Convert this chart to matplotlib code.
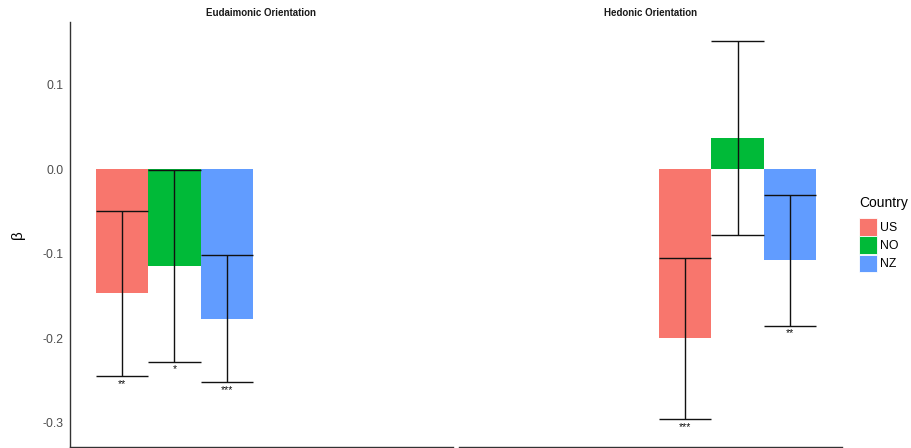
import numpy as np
import matplotlib
matplotlib.use("Agg")
import matplotlib.pyplot as plt
from matplotlib.patches import Patch

plt.rcParams["font.family"] = ["Liberation Sans", "DejaVu Sans"]

# Standardised coefficients per orientation and country, with 95% CI
orientations = ["Eudaimonic Orientation", "Hedonic Orientation"]
countries = ["US", "NO", "NZ"]
colors = ["#F8766D", "#00BA38", "#619CFF"]

eud_beta = [-0.147, -0.115, -0.177]
eud_lo = [-0.245, -0.228, -0.252]
eud_hi = [-0.049, -0.001, -0.102]
eud_sig = ["**", "*", "***"]

hed_beta = [-0.200, 0.037, -0.108]
hed_lo = [-0.296, -0.078, -0.185]
hed_hi = [-0.105, 0.152, -0.031]
hed_sig = ["***", "", "**"]

yticks = [0.1, 0.0, -0.1, -0.2, -0.3]

panels = [
    (eud_beta, eud_lo, eud_hi, eud_sig),
    (hed_beta, hed_lo, hed_hi, hed_sig),
]

W, H = 912, 448
fig = plt.figure(figsize=(W / 100, H / 100), dpi=100)
axes = [
    fig.add_axes([70 / W, 1.5 / H, 383 / W, 424.5 / H]),
    fig.add_axes([459 / W, 1.5 / H, 383 / W, 424.5 / H]),
]

bar_w = 0.3
offsets = np.array([-1, 0, 1]) * bar_w
axis_col = "#333333"

for i, (ax, (beta, lo, hi, sig)) in enumerate(zip(axes, panels)):
    x = (i + 1) + offsets
    beta = np.array(beta)
    lo = np.array(lo)
    hi = np.array(hi)
    ax.bar(x, beta, width=bar_w, color=colors, edgecolor="none", zorder=1)
    ax.vlines(x, lo, hi, color="#111111", lw=1.0, zorder=2)
    ax.hlines(lo, x - bar_w / 2, x + bar_w / 2, color="#111111", lw=1.0, zorder=2)
    ax.hlines(hi, x - bar_w / 2, x + bar_w / 2, color="#111111", lw=1.0, zorder=2)
    for xi, yi, s in zip(x, lo, sig):
        if s:
            ax.annotate(s, (xi, yi), xytext=(0, -1.8), textcoords="offset points",
                        ha="center", va="top", fontsize=7.5, color="#111111")

    ax.set_xlim(0.4, 2.6)
    ax.set_ylim(-0.328, 0.174)
    ax.set_xticks([])
    ax.set_yticks(yticks)
    ax.set_facecolor("white")
    for side in ("top", "right"):
        ax.spines[side].set_visible(False)
    ax.spines["bottom"].set_color(axis_col)
    ax.spines["bottom"].set_linewidth(1.0)
    ax.set_title(orientations[i], fontsize=7, fontweight="bold", pad=4.5, color="#1a1a1a")
    if i == 0:
        ax.spines["left"].set_color(axis_col)
        ax.spines["left"].set_linewidth(1.0)
        ax.set_yticklabels([f"{v:.1f}" for v in yticks])
        ax.tick_params(axis="y", length=0, pad=4.5, labelsize=8.8, labelcolor="#4D4D4D")
        ax.set_ylabel("β", fontsize=11, labelpad=13)
    else:
        ax.spines["left"].set_visible(False)
        ax.tick_params(axis="y", length=0, labelleft=False)

# legend: title placed separately to get the wider gap above the keys
fig.text(859 / W, 1 - 203 / H, "Country", fontsize=10, ha="left", va="center")
handles = [Patch(facecolor=c, edgecolor="white", lw=0.6, label=n)
           for c, n in zip(colors, countries)]
leg = fig.legend(handles=handles, loc="upper left",
                 bbox_to_anchor=(859 / W, 1 - 218 / H), frameon=False,
                 fontsize=8.8, handlelength=1.5, borderpad=0,
                 handleheight=1.85, handletextpad=0.25, labelspacing=0.05,
                 borderaxespad=0)

fig.savefig("out.png", dpi=100, facecolor="white")
